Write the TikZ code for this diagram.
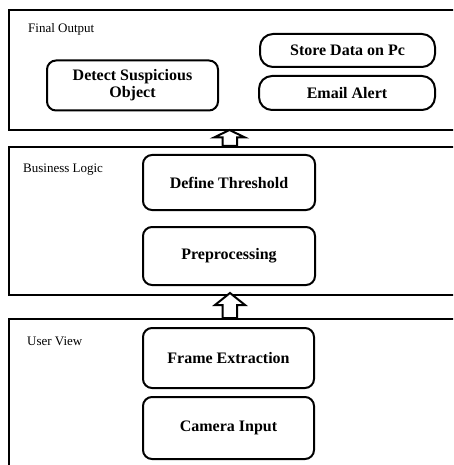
\documentclass[tikz,border=0pt]{standalone}
\usepackage{fontspec}
\setmainfont{Liberation Serif}
\usetikzlibrary{calc}
\begin{document}
\begin{tikzpicture}[x=1pt,y=-1pt,
  layer/.style={draw, line width=2.4pt, rectangle},
  layertitle/.style={anchor=west, inner sep=0pt, font=\fontsize{13}{15}\selectfont},
  stage/.style={draw, line width=2pt, rounded corners=9pt, align=center,
    font=\bfseries\fontsize{16}{17}\selectfont, inner sep=0pt},
  pill/.style={stage, rounded corners=13pt},
  blockarrow/.style={draw, line width=2pt, fill=white, line join=miter}
]
\useasboundingbox (0,0) rectangle (453,465);
\clip (0,0) rectangle (453,465);

% three layers, open past the right and bottom edges
\node[layer, minimum width=470pt, minimum height=120pt, anchor=north west] (final) at (8,9) {};
\node[layer, minimum width=470pt, minimum height=148pt, anchor=north west] (logic) at (8,146) {};
\node[layer, minimum width=470pt, minimum height=160pt, anchor=north west] (user) at (8,318) {};

\node[layertitle] (tfinal) at (28,29) {Final Output};
\node[layertitle] (tlogic) at (23,170) {Business Logic};
\node[layertitle] (tuser) at (27,341) {User View};

% final output
\node[stage, minimum width=171pt, minimum height=50pt] (detect) at (132.5,85.5) {Detect Suspicious\\Object};
\node[pill, minimum width=175pt, minimum height=33pt] (store) at (347.5,50.5) {Store Data on Pc};
\node[pill, minimum width=176pt, minimum height=34pt] (email) at (347,93) {Email Alert};

% business logic
\node[stage, minimum width=172pt, minimum height=55pt] (thresh) at (229,182.5) {Define Threshold};
\node[stage, minimum width=172pt, minimum height=58pt] (prep) at (229,256) {Preprocessing};

% user view
\node[stage, minimum width=171pt, minimum height=60pt] (frame) at (228.5,358) {Frame Extraction};
\node[stage, minimum width=171pt, minimum height=62pt] (camera) at (228.5,428) {Camera Input};

% hollow arrows between layers
\coordinate (a1tip) at (229.5,130);
\coordinate (a1base) at (229.5,146);
\draw[blockarrow] (a1tip) -- ++(15.5,7.5) -- ++(-8,0) |- ($(a1base)+(-7,0)$) -- ++(0,-8.5) -- ++(-8.5,0) -- cycle;
\coordinate (a2tip) at (230,293);
\coordinate (a2base) at (230,318);
\draw[blockarrow] (a2tip) -- ++(15,12) -- ++(-8,0) |- ($(a2base)+(-7.5,0)$) -- ++(0,-13) -- ++(-7.5,0) -- cycle;
\end{tikzpicture}
\end{document}
